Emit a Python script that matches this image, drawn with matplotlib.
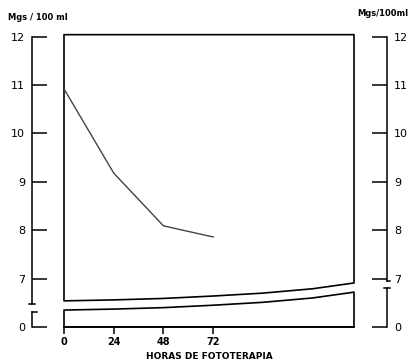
import matplotlib
matplotlib.use('Agg')
import matplotlib.pyplot as plt
from matplotlib.transforms import offset_copy

# bilirrubina (mg/100 ml) durante la fototerapia
horas = [0, 24, 48, 72]
bilirrubina = [10.92, 9.18, 8.09, 7.86]

# bandas del fondo, en la escala cortada del eje (el 0 se dibuja en 6)
horas_banda = [0, 24, 48, 72, 96, 120, 140]
piso_caja = [6.54, 6.56, 6.59, 6.64, 6.70, 6.79, 6.91]
techo_banda = [6.35, 6.37, 6.40, 6.45, 6.51, 6.60, 6.72]
techo_caja = 12.04

yticks = [6, 7, 8, 9, 10, 11, 12]
ytick_labels = ['0', '7', '8', '9', '10', '11', '12']
xticks = [0, 24, 48, 72]

W, H = 411, 363
px = 72 / 100  # pixels -> points
fig = plt.figure(figsize=(W / 100, H / 100), dpi=100)
ax = fig.add_axes([64 / W, 1 - 327 / H, 290 / W, 6.1 * 48.4 / H])
ax.set_xlim(0, 140)
ax.set_ylim(6.0, 12.1)

lw = 1.1
ax.fill_between(horas_banda, piso_caja, techo_caja, facecolor='none',
                edgecolor='black', lw=1.2, clip_on=False)
ax.fill_between(horas_banda, 6.0, techo_banda, facecolor='none',
                edgecolor='black', lw=1.2, clip_on=False)
ax.plot(horas, bilirrubina, color='#444444', lw=1.0)

ax.spines['top'].set_visible(False)
ax.spines['bottom'].set_linewidth(1.2)
ax.spines['left'].set_position(('outward', 32 * px))
ax.spines['left'].set_bounds(6.47, 12)
ax.spines['right'].set_position(('outward', 33 * px))
ax.spines['right'].set_bounds(6.95, 12)
for s in ['left', 'right']:
    ax.spines[s].set_linewidth(lw)

ax.set_yticks(yticks, ytick_labels)
ax.tick_params(axis='y', direction='in', length=11, width=lw, left=True,
               right=True, labelleft=True, labelright=True, labelsize=8, pad=5)
ax.set_xticks(xticks)
ax.tick_params(axis='x', direction='out', length=5, width=lw, labelsize=7, pad=2)
for lab in ax.get_xticklabels():
    lab.set_fontweight('bold')

# tramos cortados del eje
tl = offset_copy(ax.get_yaxis_transform(), fig=fig, x=-32, units='dots')
ax.plot([0, 0], [6.0, 6.31], transform=tl, color='k', lw=lw, clip_on=False)
ax.plot([0, 0.018], [6.31, 6.31], transform=tl, color='k', lw=lw, clip_on=False)
ax.plot([-0.01, 0.01], [6.47, 6.47], transform=tl, color='k', lw=lw, clip_on=False)
tr = offset_copy(ax.get_yaxis_transform(), fig=fig, x=33, units='dots')
ax.plot([1, 1], [6.0, 6.8], transform=tr, color='k', lw=lw, clip_on=False)
ax.plot([0.99, 1.01], [6.8, 6.8], transform=tr, color='k', lw=lw, clip_on=False)
ax.plot([1, 1.01], [6.95, 6.95], transform=tr, color='k', lw=lw, clip_on=False)

fig.text(8 / W, 1 - 18 / H, 'Mgs / 100 ml', fontsize=6, fontweight='bold', va='center')
fig.text(408 / W, 1 - 14 / H, 'Mgs/100ml', fontsize=6, fontweight='bold',
         va='center', ha='right')
ax.set_xlabel('HORAS DE FOTOTERAPIA', fontsize=6.5, fontweight='bold', labelpad=4)

fig.savefig('out.png', dpi=100)
